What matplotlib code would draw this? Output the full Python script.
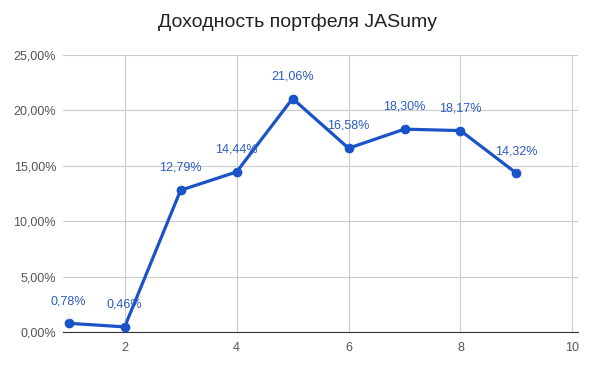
import matplotlib.pyplot as plt
from matplotlib.ticker import FuncFormatter

plt.rcParams['font.family'] = ['Liberation Sans', 'DejaVu Sans']

periods = [1, 2, 3, 4, 5, 6, 7, 8, 9]
returns = [0.78, 0.46, 12.79, 14.44, 21.06, 16.58, 18.30, 18.17, 14.32]
x_ticks = [2, 4, 6, 8, 10]
y_ticks = [0, 5, 10, 15, 20, 25]
title = 'Доходность портфеля JASumy'

line_color = '#1a52c8'
label_color = '#2a5bc4'

fig = plt.figure(figsize=(5.95, 3.66), dpi=100)
ax = fig.add_axes([0.106, 0.093, 0.8655, 0.757])

ax.plot(periods, returns, color=line_color, lw=2.3, marker='o', ms=6, zorder=3)

for x, y in zip(periods, returns):
    label = f'{y:.2f}%'.replace('.', ',')
    ax.annotate(label, xy=(x, y), xytext=(0, 16), textcoords='offset points',
                ha='center', va='center', fontsize=9, color=label_color,
                arrowprops=dict(arrowstyle='-', color='#dfe6f3', lw=0.8,
                                shrinkA=5, shrinkB=3))

ax.set_xlim(0.9, 10.1)
ax.set_ylim(0, 25)
ax.set_xticks(x_ticks)
ax.set_yticks(y_ticks)
ax.yaxis.set_major_formatter(FuncFormatter(lambda v, p: f'{v:.2f}%'.replace('.', ',')))
ax.grid(True, color='#cccccc', lw=0.8)
ax.set_axisbelow(True)
for s in ['top', 'right', 'left']:
    ax.spines[s].set_visible(False)
ax.spines['bottom'].set_color('#333333')
ax.tick_params(length=0, labelsize=9, colors='#555555')
ax.tick_params(axis='y', pad=5)
ax.tick_params(axis='x', pad=7)

fig.suptitle(title, fontsize=14, y=0.962, x=0.5, color='#222222')

fig.savefig('out.png', dpi=100)
